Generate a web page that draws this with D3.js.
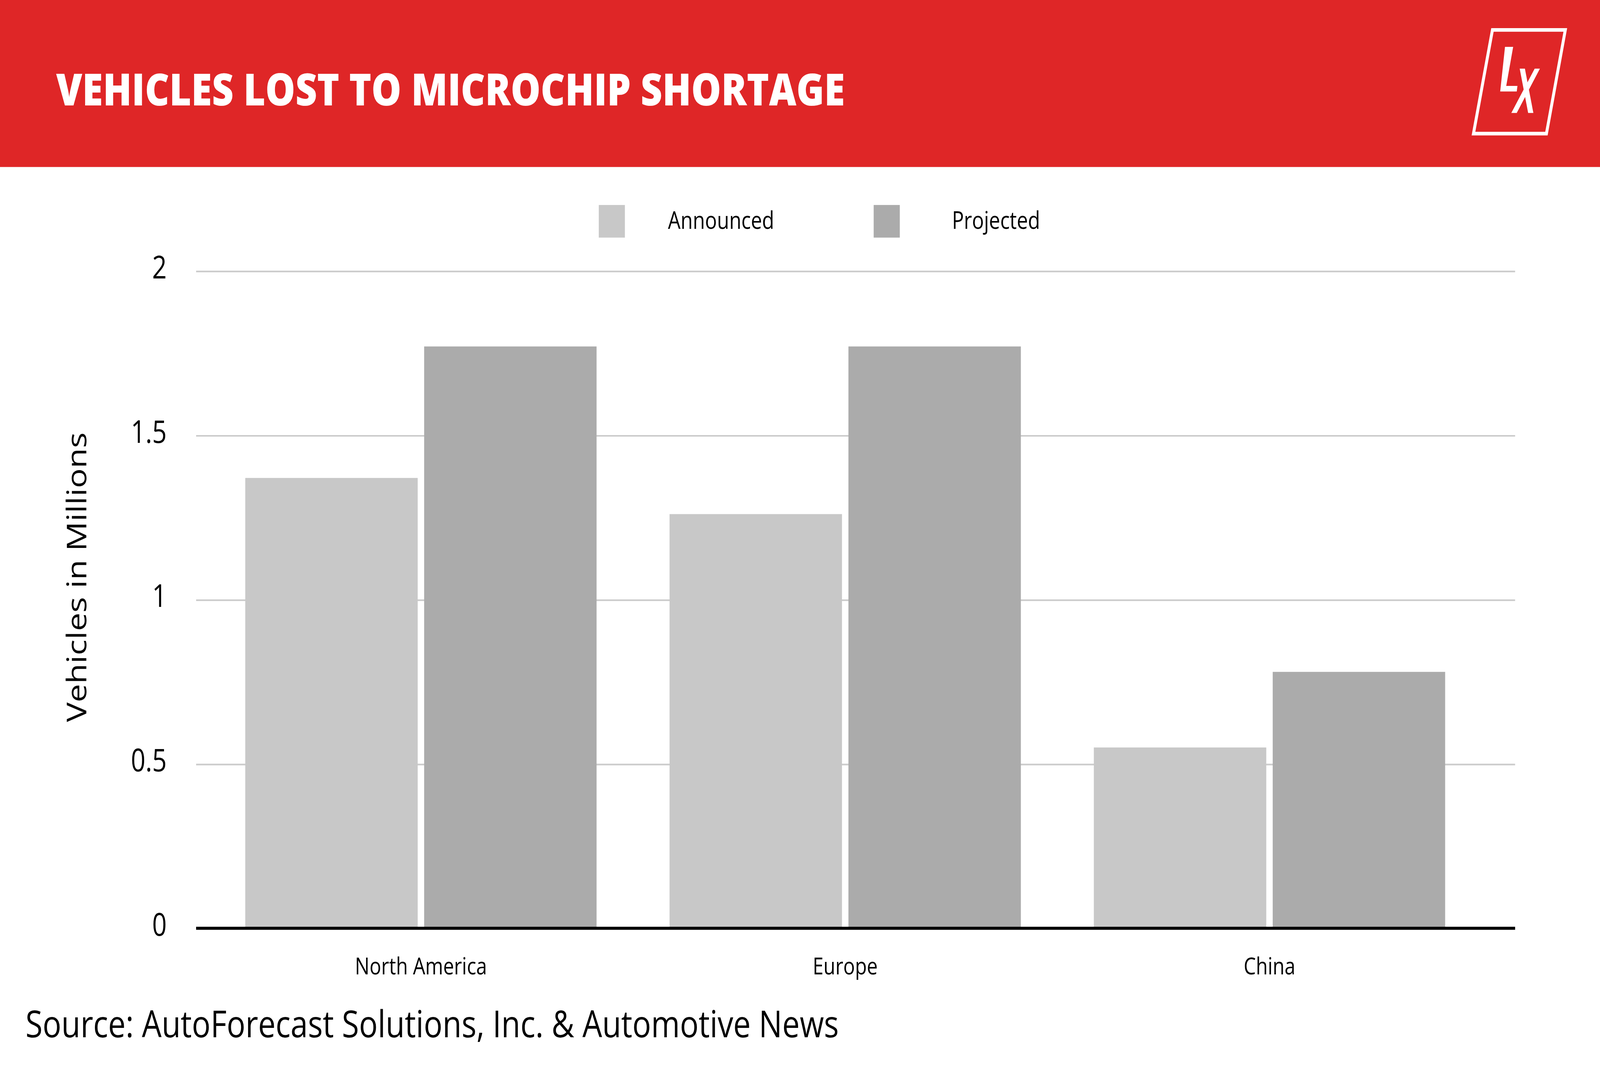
<!DOCTYPE html>
<html>
<head>
<meta charset="utf-8">
<script src="https://cdn.jsdelivr.net/npm/d3@7"></script>
<style>
	html, body { margin: 0; padding: 0; background: #fff; overflow: hidden; }
	svg { display: block; }
	text { font-family: "Open Sans", Lato, sans-serif; }
</style>
</head>
<body>
<div id="chart"></div>
<script>
// chart values (millions of vehicles)
const regions = ["North America", "Europe", "China"]
const series = ["Announced", "Projected"]
const announced = [1.37, 1.26, 0.55]
const projected = [1.77, 1.77, 0.78]
const yTicks = [0, 0.5, 1, 1.5, 2]
const seriesColors = ["#c8c8c8", "#ababab"]

const title = "VEHICLES LOST TO MICROCHIP SHORTAGE"
const yTitle = "Vehicles in Millions"
const source = "Source: AutoForecast Solutions, Inc. & Automotive News"

const init = () => {
	// drawn in a 1568 x 855 coordinate system, stretched over the whole window
	const W = 1568, H = 855.2
	const svg = d3.select("#chart").append("svg")
		.attr("width", window.innerWidth || 5000)
		.attr("height", window.innerHeight || 2727)
		.attr("viewBox", `0 0 ${W} ${H}`)
		.attr("preserveAspectRatio", "none")

	svg.append("rect").attr("width", W).attr("height", H).attr("fill", "#fff")

	headerSetup(svg, W)

	const plot = { left: 192.2, right: 1484.8, top: 217.5, bottom: 745.4 }

	const ys = d3.scaleLinear().domain([0, 2]).range([plot.bottom, plot.top])
	const x0 = d3.scaleBand().domain(regions).range([204.6, 1452]).paddingInner(0.172).paddingOuter(0.086)
	const x1 = d3.scaleBand().domain(series).range([0, x0.bandwidth()]).paddingInner(0.036)

	// gridlines + tick labels
	const yAxis = svg.append("g").attr("transform", `translate(${plot.left},0)`)
		.call(d3.axisLeft(ys)
			.tickValues(yTicks)
			.tickFormat(d => String(d))
			.tickSize(-(plot.right - plot.left))
			.tickPadding(28.8))
	yAxis.select(".domain").remove()
	yAxis.selectAll(".tick line").attr("stroke", "#cccccc").attr("stroke-width", 1.3)
	yAxis.selectAll(".tick text")
		.attr("fill", "#000")
		.style("font-size", "25px")
		.attr("dy", "0.22em")

	// bars
	const rows = regions.map((r, i) => ({ region: r, values: [announced[i], projected[i]] }))
	svg.append("g").selectAll("g")
		.data(rows)
		.join("g")
			.attr("transform", d => `translate(${x0(d.region)},0)`)
		.selectAll("rect")
		.data(d => d.values.map((v, j) => ({ key: series[j], value: v, color: seriesColors[j] })))
		.join("rect")
			.attr("x", d => x1(d.key))
			.attr("y", d => ys(d.value))
			.attr("width", x1.bandwidth())
			.attr("height", d => ys(0) - ys(d.value))
			.attr("fill", d => d.color)

	// zero line
	svg.append("line")
		.attr("x1", plot.left).attr("x2", plot.right)
		.attr("y1", ys(0)).attr("y2", ys(0))
		.attr("stroke", "#000").attr("stroke-width", 2.5)

	// category labels
	const xAxis = svg.append("g").attr("transform", `translate(0,${ys(0)})`)
		.call(d3.axisBottom(x0).tickSize(0))
	xAxis.select(".domain").remove()
	xAxis.selectAll(".tick text")
		.attr("fill", "#000")
		.attr("y", 37.2).attr("dy", 0)
		.style("font-size", "19px")

	// y axis title
	svg.append("text")
		.attr("transform", `translate(84.7,463.5) rotate(-90)`)
		.attr("text-anchor", "middle")
		.style("font-size", "26.5px")
		.attr("fill", "#000")
		.text(yTitle)

	// legend
	const legend = svg.append("g").selectAll("g")
		.data(series)
		.join("g")
			.attr("transform", (d, i) => `translate(${586.8 + i * 269.4},164.6)`)
	legend.append("rect")
		.attr("width", 25.6).attr("height", 26.2)
		.attr("fill", (d, i) => seriesColors[i])
	legend.append("text")
		.attr("x", 119.9).attr("y", 19.3)
		.attr("text-anchor", "middle")
		.style("font-size", "19.5px")
		.attr("fill", "#000")
		.text(d => d)

	// source line
	svg.append("text")
		.attr("x", 25).attr("y", 832.8)
		.attr("textLength", 797).attr("lengthAdjust", "spacingAndGlyphs")
		.style("font-size", "30px")
		.attr("fill", "#000")
		.text(source)
}

const headerSetup = (svg, W) => {
	svg.append("rect").attr("width", W).attr("height", 134.1).attr("fill", "#df2627")

	svg.append("text")
		.attr("x", 55).attr("y", 84.7)
		.attr("textLength", 773).attr("lengthAdjust", "spacingAndGlyphs")
		.attr("fill", "#fff")
		.style("font-size", "35.5px")
		.style("font-weight", 800)
		.text(title)

	// LX logo
	const logo = svg.append("g").attr("fill", "#fff")
	logo.append("polygon")
		.attr("points", "1462.6,24.05 1534,24.05 1515.5,107.3 1444,107.3")
		.attr("fill", "none").attr("stroke", "#fff").attr("stroke-width", 2.9)
	logo.append("polygon").attr("points", "1474.9,37.6 1482.9,37.6 1476.1,69 1487.1,69 1486.4,73.5 1470.2,73.5")
	logo.append("polygon").attr("points", "1489.3,55.1 1494.4,55.1 1502.7,90.7 1497.6,90.7")
	logo.append("polygon").attr("points", "1504,55.1 1509.1,55.1 1486.4,90.7 1481.1,90.7")
}

init()
</script>
</body>
</html>
